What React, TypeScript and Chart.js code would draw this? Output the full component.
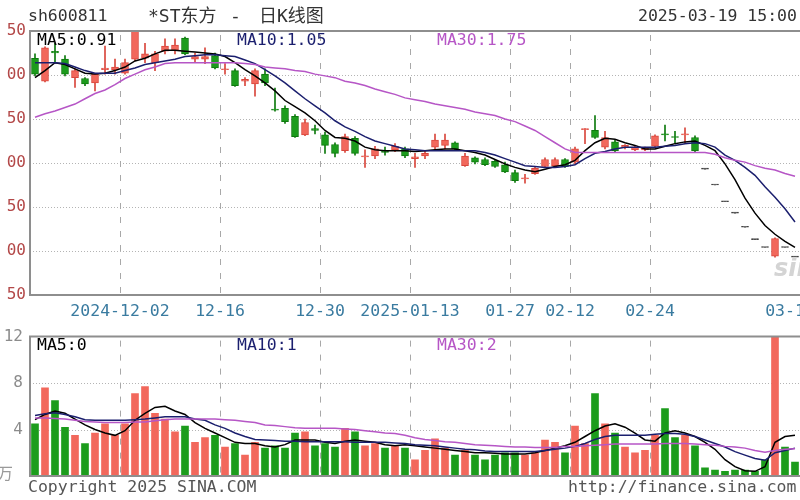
import React, { useEffect, useRef } from "react";
import { Chart, registerables } from "chart.js";

Chart.register(...registerables);

// ---------- data ----------
const categories = [
  "2024-11-19","2024-11-20","2024-11-21","2024-11-22","2024-11-25","2024-11-26","2024-11-27","2024-11-28","2024-11-29",
  "2024-12-02","2024-12-03","2024-12-04","2024-12-05","2024-12-06","2024-12-09","2024-12-10","2024-12-11","2024-12-12","2024-12-13",
  "2024-12-16","2024-12-17","2024-12-18","2024-12-19","2024-12-20","2024-12-23","2024-12-24","2024-12-25","2024-12-26","2024-12-27",
  "2024-12-30","2024-12-31","2025-01-02","2025-01-03","2025-01-06","2025-01-07","2025-01-08","2025-01-09","2025-01-10",
  "2025-01-13","2025-01-14","2025-01-15","2025-01-16","2025-01-17","2025-01-20","2025-01-21","2025-01-22","2025-01-23","2025-01-24",
  "2025-01-27","2025-02-05","2025-02-06","2025-02-07","2025-02-10","2025-02-11","2025-02-12","2025-02-13","2025-02-14",
  "2025-02-17","2025-02-18","2025-02-19","2025-02-20","2025-02-21","2025-02-24","2025-02-25","2025-02-26","2025-02-27","2025-02-28",
  "2025-03-03","2025-03-04","2025-03-05","2025-03-06","2025-03-07","2025-03-10","2025-03-11","2025-03-12","2025-03-13","2025-03-14",
];

const opens = [
  3.19, 2.93, 3.27, 3.18, 2.97, 2.96, 2.91, 3.06, 3.06, 3.02,
  3.18, 3.19, 3.14, 3.27, 3.28, 3.42, 3.18, 3.18, 3.22, 3.06,
  3.05, 2.93, 2.90, 3.01, 2.61, 2.62, 2.53, 2.32, 2.39, 2.32,
  2.21, 2.14, 2.28, 2.07, 2.08, 2.14, 2.15, 2.16, 2.05, 2.08,
  2.18, 2.20, 2.23, 1.97, 2.06, 2.04, 2.02, 1.98, 1.89, 1.82,
  1.88, 1.96, 1.97, 2.04, 2.01, 2.38, 2.37, 2.18, 2.24, 2.18,
  2.15, 2.15, 2.19, 2.33, 2.30, 2.32, 2.29, 1.93, 1.75, 1.56,
  1.43, 1.27, 1.13, 1.04, 0.94, 1.04, 0.93,
];
const highs = [
  3.24, 3.32, 3.36, 3.22, 3.07, 2.97, 3.01, 3.33, 3.18, 3.18,
  3.55, 3.36, 3.27, 3.41, 3.41, 3.43, 3.25, 3.31, 3.25, 3.13,
  3.07, 2.97, 3.07, 3.07, 2.85, 2.65, 2.55, 2.50, 2.43, 2.35,
  2.23, 2.33, 2.30, 2.15, 2.19, 2.18, 2.22, 2.18, 2.11, 2.14,
  2.33, 2.33, 2.24, 2.11, 2.07, 2.06, 2.04, 2.01, 1.92, 1.87,
  1.96, 2.06, 2.06, 2.05, 2.18, 2.39, 2.54, 2.36, 2.26, 2.21,
  2.19, 2.18, 2.32, 2.43, 2.36, 2.40, 2.31, 1.93, 1.75, 1.56,
  1.43, 1.27, 1.13, 1.04, 1.15, 1.04, 0.93,
];
const lows = [
  2.99, 2.92, 3.14, 2.99, 2.86, 2.88, 2.82, 3.01, 3.01, 3.01,
  3.16, 3.14, 3.05, 3.24, 3.24, 3.23, 3.14, 3.13, 3.07, 3.01,
  2.87, 2.88, 2.76, 2.88, 2.59, 2.45, 2.29, 2.31, 2.33, 2.11,
  2.07, 2.12, 2.09, 1.95, 2.05, 2.09, 2.13, 2.06, 1.95, 2.05,
  2.16, 2.16, 2.15, 1.96, 1.99, 1.97, 1.95, 1.89, 1.78, 1.77,
  1.87, 1.95, 1.95, 1.95, 1.99, 2.22, 2.28, 2.16, 2.12, 2.16,
  2.14, 2.14, 2.18, 2.25, 2.23, 2.23, 2.13, 1.93, 1.75, 1.56,
  1.43, 1.27, 1.13, 1.04, 0.93, 1.04, 0.93,
];
const closes = [
  3.01, 3.31, 3.25, 3.01, 3.05, 2.90, 3.01, 3.08, 3.09, 3.14,
  3.52, 3.24, 3.24, 3.33, 3.34, 3.24, 3.21, 3.21, 3.08, 3.07,
  2.88, 2.95, 3.05, 2.91, 2.60, 2.47, 2.30, 2.46, 2.37, 2.20,
  2.11, 2.30, 2.11, 2.08, 2.16, 2.12, 2.19, 2.08, 2.07, 2.11,
  2.26, 2.26, 2.16, 2.08, 2.01, 1.98, 1.96, 1.90, 1.80, 1.83,
  1.94, 2.04, 2.04, 1.96, 2.16, 2.39, 2.29, 2.29, 2.14, 2.20,
  2.18, 2.17, 2.31, 2.32, 2.29, 2.33, 2.14, 1.93, 1.75, 1.56,
  1.43, 1.27, 1.13, 1.04, 1.14, 1.04, 0.93,
];

const ma5 = [
  2.97, 3.05, 3.14, 3.12, 3.07, 3.02, 3.01, 3.02, 3.05, 3.09,
  3.16, 3.19, 3.24, 3.28, 3.28, 3.27, 3.26, 3.25, 3.24, 3.21,
  3.14, 3.06, 2.99, 2.91, 2.82, 2.71, 2.64, 2.57, 2.48, 2.37,
  2.29, 2.28, 2.25, 2.18, 2.15, 2.14, 2.14, 2.14, 2.13, 2.14,
  2.15, 2.16, 2.16, 2.14, 2.12, 2.09, 2.04, 1.99, 1.95, 1.92,
  1.90, 1.93, 1.96, 1.98, 2.03, 2.14, 2.23, 2.28, 2.27, 2.23,
  2.20, 2.16, 2.16, 2.19, 2.22, 2.24, 2.25, 2.20, 2.14, 1.99,
  1.81, 1.60, 1.43, 1.29, 1.19, 1.11, 1.04,
];
const ma10 = [
  3.14, 3.14, 3.14, 3.13, 3.09, 3.05, 3.02, 3.02, 3.02, 3.05,
  3.08, 3.12, 3.14, 3.16, 3.18, 3.21, 3.22, 3.23, 3.23, 3.22,
  3.21, 3.17, 3.13, 3.06, 2.99, 2.91, 2.82, 2.73, 2.65, 2.57,
  2.48, 2.41, 2.36, 2.30, 2.25, 2.22, 2.19, 2.16, 2.15, 2.14,
  2.14, 2.14, 2.14, 2.14, 2.14, 2.12, 2.09, 2.05, 2.01, 1.97,
  1.96, 1.95, 1.95, 1.96, 1.98, 2.05, 2.11, 2.13, 2.16, 2.18,
  2.18, 2.18, 2.18, 2.19, 2.20, 2.22, 2.23, 2.22, 2.18, 2.09,
  2.03, 1.95, 1.86, 1.73, 1.61, 1.48, 1.33,
];
const ma30 = [
  2.52, 2.56, 2.59, 2.63, 2.67, 2.73, 2.79, 2.83, 2.89, 2.96,
  3.01, 3.06, 3.09, 3.13, 3.14, 3.14, 3.14, 3.14, 3.14, 3.14,
  3.14, 3.13, 3.12, 3.09, 3.08, 3.07, 3.05, 3.04, 3.01, 2.99,
  2.97, 2.93, 2.91, 2.88, 2.84, 2.81, 2.78, 2.74, 2.72, 2.70,
  2.67, 2.65, 2.63, 2.61, 2.58, 2.56, 2.54, 2.50, 2.47, 2.42,
  2.37, 2.30, 2.23, 2.16, 2.12, 2.12, 2.12, 2.12, 2.12, 2.12,
  2.12, 2.12, 2.12, 2.12, 2.12, 2.12, 2.12, 2.12, 2.10, 2.06,
  2.03, 2.01, 1.97, 1.94, 1.92, 1.88, 1.85,
];

const volumes = [
  4.5, 7.6, 6.5, 4.2, 3.5, 2.8, 3.7, 4.5, 3.5, 4.5,
  7.1, 7.7, 5.4, 4.9, 3.8, 4.3, 2.9, 3.3, 3.5, 2.5,
  2.8, 1.8, 2.9, 2.4, 2.6, 2.4, 3.7, 3.8, 2.6, 2.8,
  2.5, 4.1, 3.8, 2.6, 2.8, 2.4, 2.6, 2.4, 1.4, 2.2,
  3.2, 2.4, 1.8, 2.2, 1.8, 1.4, 1.8, 2.0, 2.0, 1.8,
  2.0, 3.1, 2.9, 2.0, 4.3, 2.8, 7.1, 4.5, 3.7, 2.5,
  2.0, 2.2, 3.5, 5.8, 3.3, 3.5, 2.6, 0.7, 0.5, 0.4,
  0.5, 0.5, 0.4, 1.4, 12.3, 2.5, 1.2,
];
const volMa5 = [
  4.85, 5.3, 5.6, 5.4, 4.9, 4.4, 4.0, 3.7, 3.5, 3.9,
  4.8, 5.4, 5.9, 6.0, 5.6, 5.3, 4.6, 4.1, 3.7, 3.3,
  2.9, 2.8, 2.8, 2.6, 2.5, 2.7, 3.1, 3.1, 3.1, 2.9,
  2.8, 3.0, 3.1, 3.0, 2.9, 2.7, 2.6, 2.7, 2.6, 2.5,
  2.4, 2.3, 2.2, 2.1, 2.0, 2.0, 1.95, 1.9, 1.9, 1.9,
  2.0, 2.2, 2.4, 2.6, 2.9, 3.4, 3.9, 4.3, 4.5, 4.2,
  3.7, 3.1, 3.0, 3.7, 3.9, 3.7, 3.4, 2.9, 2.3, 1.4,
  0.8, 0.45, 0.4, 0.8, 2.9, 3.4, 3.5,
];
const volMa10 = [
  5.2, 5.35, 5.45, 5.3, 5.1, 4.85, 4.8, 4.8, 4.8, 4.8,
  4.85, 4.9, 5.0, 5.1, 5.1, 5.1, 4.9, 4.8, 4.4, 4.1,
  3.7, 3.4, 3.15, 3.1, 3.05, 3.0, 3.0, 2.95, 2.95, 2.95,
  2.95, 2.95, 2.9, 2.9, 2.9, 2.9, 2.85, 2.8, 2.7, 2.65,
  2.6, 2.5, 2.4, 2.3, 2.25, 2.15, 2.1, 2.1, 2.1, 2.1,
  2.1, 2.2, 2.3, 2.4, 2.55, 2.8, 3.15, 3.4, 3.5, 3.5,
  3.5, 3.5, 3.6, 3.65, 3.65, 3.6, 3.4, 3.1, 2.8, 2.5,
  2.1, 1.8, 1.5, 1.35, 2.0, 2.2, 2.4,
];
const volMa30 = [
  5.0, 5.0, 4.95, 4.9, 4.8, 4.7, 4.65, 4.6, 4.6, 4.6,
  4.65, 4.65, 4.75, 4.85, 4.9, 4.9, 4.9, 4.9, 4.9, 4.85,
  4.8, 4.7, 4.6, 4.4, 4.35, 4.25, 4.15, 4.1, 4.1, 4.1,
  4.1, 4.05, 4.0, 3.9, 3.8, 3.7, 3.65, 3.5, 3.3, 3.15,
  3.05, 2.95, 2.9, 2.8, 2.7, 2.65, 2.6, 2.55, 2.5, 2.5,
  2.45, 2.45, 2.45, 2.55, 2.55, 2.6, 2.65, 2.7, 2.75, 2.75,
  2.75, 2.75, 2.75, 2.8, 2.8, 2.8, 2.75, 2.7, 2.65, 2.55,
  2.5, 2.4, 2.2, 2.05, 2.2, 2.3, 2.35,
];

const priceTickValues = [3.5, 3.0, 2.5, 2.0, 1.5, 1.0, 0.5];
const priceTickLabels = ["50", "00", "50", "00", "50", "00", "50"];
const volTickValues = [12, 8, 4, 0];
const volTickLabels = ["12", "8", "4", ""];

const xTickDates = ["2024-12-02", "2024-12-16", "2024-12-30", "2025-01-13", "2025-01-27", "2025-02-12", "2025-02-24", "2025-03-14"];
const xTickLabels = ["2024-12-02", "12-16", "12-30", "2025-01-13", "01-27", "02-12", "02-24", "03-14"];
const xGridDates = ["2024-12-02", "2024-12-16", "2024-12-30", "2025-01-13", "2025-01-27", "2025-02-12", "2025-02-24"];

// ---------- styles ----------
const MONO = "'DejaVu Sans Mono', 'Noto Sans CJK SC', monospace";
const RED_FILL = "#f2685c";
const RED_EDGE = "#d9473d";
const GREEN_FILL = "#1c9c1c";
const GREEN_EDGE = "#0e7a0e";
const FLAT = "#3c3c3c";
const C_MA5 = "#000000";
const C_MA10 = "#1b1f6e";
const C_MA30 = "#b656c6";

const kinds = opens.map((o, i) => (closes[i] > o ? "up" : closes[i] < o ? "down" : "flat"));

function panePlugin(yTicks: number[], showDates: boolean) {
  return {
    id: "pane" + (showDates ? "P" : "V"),
    beforeDatasetsDraw(chart: any) {
      const { ctx, chartArea: a, scales } = chart;
      const xs = scales.x;
      const ys = scales.y;
      ctx.save();
      ctx.lineWidth = 1;
      ctx.strokeStyle = "#b4b4b4";
      ctx.setLineDash([1, 2]);
      for (const v of yTicks) {
        const py = Math.round(ys.getPixelForValue(v)) + 0.5;
        if (py <= a.top + 3 || py >= a.bottom - 3) continue;
        ctx.beginPath();
        ctx.moveTo(a.left, py);
        ctx.lineTo(a.right, py);
        ctx.stroke();
      }
      const half = (xs.getPixelForValue(1) - xs.getPixelForValue(0)) / 2;
      ctx.strokeStyle = "#a8a8a8";
      ctx.setLineDash([6, 8]);
      for (const d of xGridDates) {
        const idx = categories.indexOf(d);
        const px = Math.round(xs.getPixelForValue(idx) - half) + 0.5;
        ctx.beginPath();
        ctx.moveTo(px, a.top + 4);
        ctx.lineTo(px, a.bottom);
        ctx.stroke();
      }
      ctx.restore();
    },
    afterDatasetsDraw(chart: any) {
      const { ctx, chartArea: a, scales } = chart;
      ctx.save();
      ctx.setLineDash([]);
      ctx.strokeStyle = "#8e8e8e";
      ctx.lineWidth = 2;
      ctx.beginPath();
      ctx.moveTo(a.right, a.top);
      ctx.lineTo(a.left, a.top);
      ctx.lineTo(a.left, a.bottom);
      ctx.lineTo(a.right, a.bottom);
      ctx.stroke();
      if (showDates) {
        const xs = scales.x;
        const half = (xs.getPixelForValue(1) - xs.getPixelForValue(0)) / 2;
        ctx.font = `16.5px ${MONO}`;
        ctx.fillStyle = "#3a7ba0";
        ctx.textAlign = "center";
        ctx.textBaseline = "middle";
        xTickDates.forEach((d, k) => {
          const idx = categories.indexOf(d);
          ctx.fillText(xTickLabels[k], xs.getPixelForValue(idx) - half, a.bottom + 17);
        });
      }
      ctx.restore();
    },
  };
}

function lineDs(data: number[], color: string, order = 0) {
  return {
    type: "line",
    data,
    borderColor: color,
    borderWidth: 1.5,
    pointRadius: 0,
    tension: 0,
    order,
  };
}

export default function App() {
  const priceRef = useRef<HTMLCanvasElement>(null);
  const volRef = useRef<HTMLCanvasElement>(null);

  useEffect(() => {
    const priceChart = new Chart(priceRef.current as HTMLCanvasElement, {
      type: "bar",
      data: {
        labels: categories,
        datasets: [
          lineDs(ma30, C_MA30, 0),
          lineDs(ma10, C_MA10, 0),
          lineDs(ma5, C_MA5, 0),
          {
            type: "bar",
            data: opens.map((o, i) => [o, closes[i]]),
            backgroundColor: kinds.map((k) => (k === "up" ? RED_FILL : k === "down" ? GREEN_FILL : FLAT)),
            borderColor: kinds.map((k) => (k === "up" ? RED_EDGE : k === "down" ? GREEN_EDGE : FLAT)),
            borderWidth: 1,
            borderSkipped: false,
            barThickness: 7,
            minBarLength: 1,
            grouped: false,
            order: 2,
          },
          {
            type: "bar",
            data: lows.map((l, i) => [l, highs[i]]),
            backgroundColor: kinds.map((k) => (k === "up" ? RED_EDGE : k === "down" ? GREEN_EDGE : FLAT)),
            borderWidth: 0,
            barThickness: 1,
            grouped: false,
            order: 3,
          },
        ] as any,
      },
      options: {
        animation: false,
        responsive: false,
        layout: { padding: { top: 31, bottom: 25, left: 0, right: 0 } },
        plugins: { legend: { display: false }, tooltip: { enabled: false } },
        scales: {
          x: { type: "category", display: false, offset: true, grid: { display: false } },
          y: {
            min: 0.5,
            max: 3.5,
            afterFit: (s: any) => {
              s.width = 30;
            },
            afterBuildTicks: (s: any) => {
              s.ticks = priceTickValues.map((v) => ({ value: v }));
            },
            grid: { display: false, drawTicks: false },
            border: { display: false },
            ticks: {
              padding: 4,
              color: "#b34848",
              font: { family: MONO, size: 16 },
              callback: (v: any) => priceTickLabels[priceTickValues.indexOf(Number(v))] ?? "",
            },
          },
        },
      } as any,
      plugins: [panePlugin(priceTickValues, true)],
    });

    const volChart = new Chart(volRef.current as HTMLCanvasElement, {
      type: "bar",
      data: {
        labels: categories,
        datasets: [
          lineDs(volMa30, C_MA30, 0),
          lineDs(volMa10, C_MA10, 0),
          lineDs(volMa5, C_MA5, 0),
          {
            type: "bar",
            data: volumes,
            backgroundColor: kinds.map((k) => (k === "up" ? RED_FILL : GREEN_FILL)),
            borderWidth: 0,
            barThickness: 7,
            grouped: false,
            order: 2,
          },
        ] as any,
      },
      options: {
        animation: false,
        responsive: false,
        layout: { padding: { top: 15, bottom: 24, left: 0, right: 0 } },
        plugins: { legend: { display: false }, tooltip: { enabled: false } },
        scales: {
          x: { type: "category", display: false, offset: true, grid: { display: false } },
          y: {
            min: 0,
            max: 12,
            afterFit: (s: any) => {
              s.width = 30;
            },
            afterBuildTicks: (s: any) => {
              s.ticks = volTickValues.map((v) => ({ value: v }));
            },
            grid: { display: false, drawTicks: false },
            border: { display: false },
            ticks: {
              padding: 7,
              color: "#8c8c8c",
              font: { family: MONO, size: 16 },
              callback: (v: any) => volTickLabels[volTickValues.indexOf(Number(v))] ?? "",
            },
          },
        },
      } as any,
      plugins: [panePlugin(volTickValues, false)],
    });

    return () => {
      priceChart.destroy();
      volChart.destroy();
    };
  }, []);

  const txt = (left: number, top: number, text: string, color: string, size = 16.5, extra: any = {}) => (
    <span
      style={{
        position: "absolute",
        left,
        top,
        color,
        fontSize: size,
        lineHeight: `${size}px`,
        whiteSpace: "pre",
        fontFamily: MONO,
        ...extra,
      }}
    >
      {text}
    </span>
  );

  return (
    <div
      style={{
        position: "fixed",
        left: 0,
        top: 0,
        width: 800,
        height: 500,
        background: "#ffffff",
        overflow: "hidden",
      }}
    >
      <canvas ref={priceRef} width={800} height={320} style={{ position: "absolute", left: 0, top: 0 }} />
      <canvas ref={volRef} width={800} height={180} style={{ position: "absolute", left: 0, top: 320 }} />
      {txt(28, 8, "sh600811", "#333333")}
      {txt(148, 7, "*ST东方", "#333333", 18)}
      {txt(230, 7, "-", "#333333", 18)}
      {txt(259, 7, "日K线图", "#333333", 18)}
      {txt(638, 8, "2025-03-19 15:00", "#333333")}
      {txt(37, 32, "MA5:0.91", C_MA5)}
      {txt(237, 32, "MA10:1.05", C_MA10)}
      {txt(437, 32, "MA30:1.75", C_MA30)}
      {txt(37, 337, "MA5:0", C_MA5)}
      {txt(237, 337, "MA10:1", C_MA10)}
      {txt(437, 337, "MA30:2", C_MA30)}
      {txt(-3, 466, "万", "#9a9a9a", 16)}
      {txt(28, 479, "Copyright 2025 SINA.COM", "#555555")}
      {txt(568, 479, "http://finance.sina.com", "#555555")}
      {txt(774, 256, "sina", "#d4d4d4", 24, { fontStyle: "italic", fontWeight: "bold", fontFamily: "'DejaVu Sans', sans-serif" })}
    </div>
  );
}
